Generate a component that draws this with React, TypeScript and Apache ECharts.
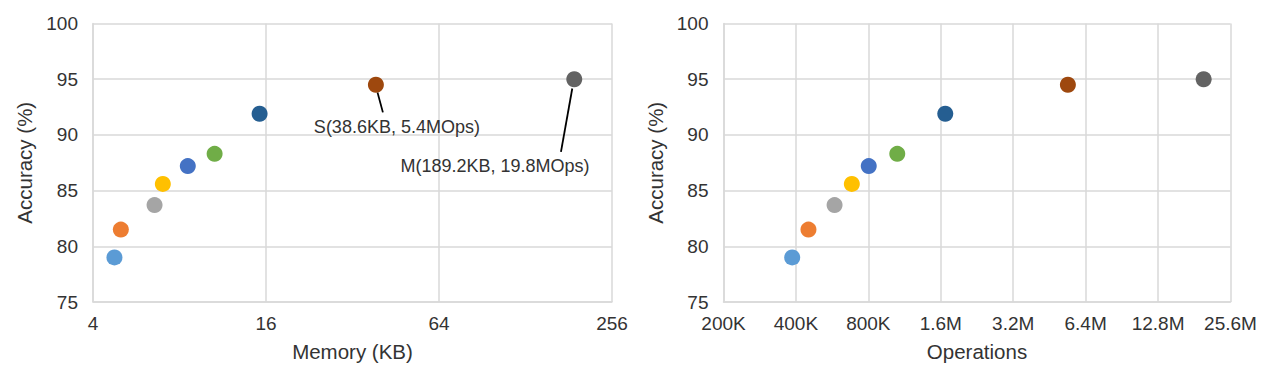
import React, { useEffect, useRef } from "react";
import * as echarts from "echarts";

// Model colours (in order of size)
const modelColors = ["#5B9BD5", "#ED7D31", "#A5A5A5", "#FFC000", "#4472C4", "#70AD47", "#255E91", "#9E480E", "#636363"];
// Accuracy (%) of each model
const accuracy = [79.0, 81.5, 83.7, 85.6, 87.2, 88.3, 91.9, 94.5, 95.0];
// Memory (KB) of each model
const memoryKB = [4.75, 5.0, 6.55, 7.0, 8.55, 10.6, 15.2, 38.6, 189.2];
// Operations of each model
const operations = [386000, 451000, 579000, 683000, 803000, 1055000, 1670000, 5400000, 19800000];
// Tick labels
const memoryTicks = [4, 16, 64, 256];
const opsTicks = ["200K", "400K", "800K", "1.6M", "3.2M", "6.4M", "12.8M", "25.6M"];
// Annotated models
const annotations = [
  { index: 7, text: "S(38.6KB, 5.4MOps)" },
  { index: 8, text: "M(189.2KB, 19.8MOps)" },
];

const OPS_UNIT = 100000; // axis unit for operations (200K = 2 units)

export default function App() {
  const ref = useRef<HTMLDivElement>(null);
  useEffect(() => {
    const chart = echarts.init(ref.current!, null, { renderer: "svg" });
    const font = "'Liberation Sans', Arial, sans-serif";
    const textColor = "#333333";
    const gridColor = "#d9d9d9";

    const yAxis = (gridIndex: number) => ({
      type: "value",
      gridIndex,
      min: 75,
      max: 100,
      interval: 5,
      name: "Accuracy (%)",
      nameLocation: "middle",
      nameRotate: 90,
      nameGap: 58,
      nameTextStyle: { fontFamily: font, fontSize: 20.5, color: textColor },
      axisLine: { show: true, lineStyle: { color: gridColor, width: 1.5 } },
      axisTick: { show: false },
      axisLabel: { fontFamily: font, fontSize: 19, color: textColor, margin: 15 },
      splitLine: { show: true, lineStyle: { color: gridColor, width: 1.5 } },
    });

    const xCommon = {
      nameLocation: "middle",
      nameGap: 39,
      nameTextStyle: { fontFamily: font, fontSize: 20.5, color: textColor },
      axisLine: { show: true, lineStyle: { color: gridColor, width: 1.5 } },
      axisTick: { show: false },
      splitLine: { show: true, lineStyle: { color: gridColor, width: 1.5 } },
    };

    const memData = memoryKB.map((m, i) => ({ value: [m, accuracy[i]], itemStyle: { color: modelColors[i], opacity: 1 } }));
    const opsData = operations.map((o, i) => ({ value: [o / OPS_UNIT, accuracy[i]], itemStyle: { color: modelColors[i], opacity: 1 } }));

    chart.setOption({
      animation: false,
      grid: [
        { left: 93, right: 668, top: 23.5, bottom: 76 },
        { left: 723.5, right: 49.5, top: 23.5, bottom: 76 },
      ],
      xAxis: [
        {
          ...xCommon,
          type: "log",
          logBase: 4,
          gridIndex: 0,
          min: memoryTicks[0],
          max: memoryTicks[memoryTicks.length - 1],
          name: "Memory (KB)",
          axisLabel: { fontFamily: font, fontSize: 19, color: textColor, margin: 12, formatter: (v: number) => String(Math.round(v)) },
        },
        {
          ...xCommon,
          type: "log",
          logBase: 2,
          gridIndex: 1,
          min: 2,
          max: 256,
          name: "Operations",
          axisLabel: {
            fontFamily: font,
            fontSize: 19,
            color: textColor,
            margin: 12,
            formatter: (v: number) => opsTicks[Math.round(Math.log2(v / 2))] ?? "",
          },
        },
      ],
      yAxis: [yAxis(0), yAxis(1)],
      series: [
        { type: "scatter", xAxisIndex: 0, yAxisIndex: 0, symbolSize: 16, data: memData },
        { type: "scatter", xAxisIndex: 1, yAxisIndex: 1, symbolSize: 16, data: opsData },
      ],
    });

    // Annotations with leader lines
    const layout = [
      { line: [1.6, 7.6, 7, 27.6], text: [21, 42.6] },
      { line: [-2, 9.3, -13.3, 72.6], text: [-79.3, 86.6] },
    ];
    const graphics: any[] = [];
    annotations.forEach((a, k) => {
      const p = chart.convertToPixel({ xAxisIndex: 0, yAxisIndex: 0 }, [memoryKB[a.index], accuracy[a.index]]) as number[];
      const l = layout[k];
      graphics.push({
        type: "line",
        shape: { x1: p[0] + l.line[0], y1: p[1] + l.line[1], x2: p[0] + l.line[2], y2: p[1] + l.line[3] },
        style: { stroke: "#000", lineWidth: 1.8 },
      });
      graphics.push({
        type: "text",
        x: p[0] + l.text[0],
        y: p[1] + l.text[1],
        style: { text: a.text, fontFamily: font, fontSize: 18, fill: textColor, align: "center", verticalAlign: "middle" },
      });
    });
    chart.setOption({ graphic: graphics });

    return () => chart.dispose();
  }, []);

  return <div ref={ref} style={{ position: "absolute", left: 0, top: 0, width: 1280, height: 378, background: "#fff" }} />;
}
